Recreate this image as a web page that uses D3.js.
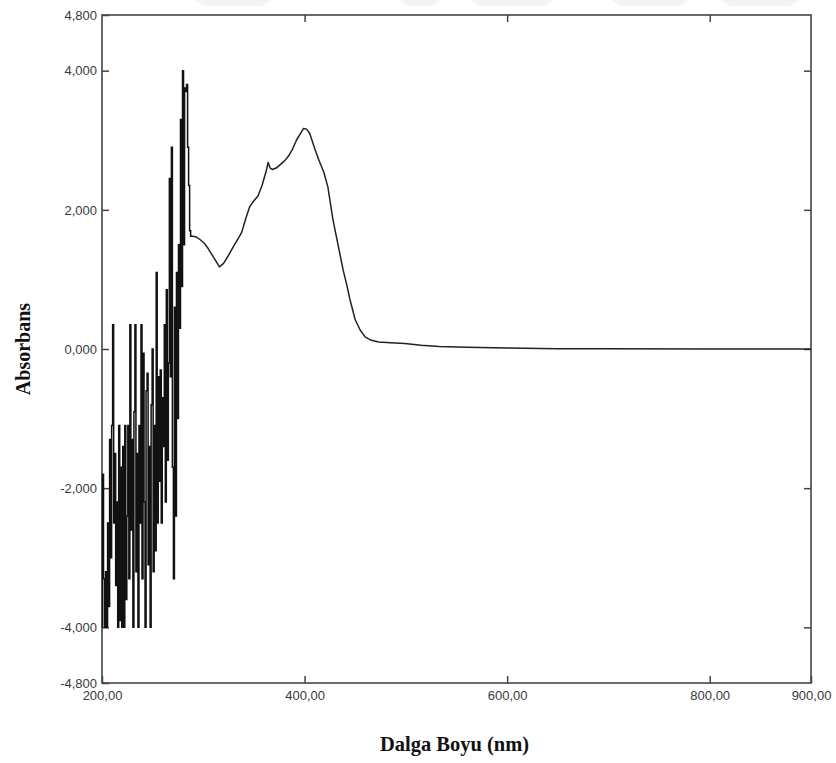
<!DOCTYPE html>
<html>
<head>
<meta charset="utf-8">
<script src="https://cdn.jsdelivr.net/npm/d3@7"></script>
<style>
  body { margin: 0; background: #fff; }
</style>
</head>
<body>
<div id="container"></div>
<script>
// noisy part of the scan (nm, absorbance) - detector saturates below ~285 nm
const noisyScan = [
    [200, -4.0], [201, -1.8], [202, -3.3], [203, -4.0], [204, -3.2], [205, -4.0],
    [206, -2.5], [207, -3.7], [208, -1.3], [209, -3.0], [210, -1.1], [211, 0.35],
    [212, -2.5], [213, -1.5], [214, -3.4], [215, -2.2], [216, -4.0], [217, -1.1],
    [218, -3.9], [219, -1.7], [220, -4.0], [221, -1.4], [222, -4.0], [223, -1.1],
    [224, -3.6], [225, -2.4], [226, -1.1], [227, -3.3], [228, 0.35], [229, -2.6],
    [230, -1.3], [231, -4.0], [232, -0.9], [233, 0.35], [234, -3.2], [235, -1.5],
    [236, -4.0], [237, -1.1], [238, -2.5], [239, 0.35], [240, -3.3], [241, -0.06],
    [242, -2.2], [243, -4.0], [244, -0.6], [245, -0.35], [246, -3.1], [247, -1.4],
    [248, -4.0], [249, -0.8], [250, 0.0], [251, -3.2], [252, -1.1], [253, -2.9],
    [254, 1.1], [255, -2.5], [256, -0.4], [257, -1.9], [258, -0.3], [259, -2.5],
    [260, -0.7], [261, -1.4], [262, 0.35], [263, -2.2], [264, 0.85], [265, -1.6],
    [266, -0.2], [267, 2.45], [268, -0.4], [269, 2.9], [270, -1.7], [271, -3.3],
    [272, 0.6], [273, -2.4], [274, 1.1], [275, -1.0], [276, 1.5], [277, 0.3],
    [278, 3.3], [279, 0.9], [280, 4.0], [281, 1.5], [282, 3.75], [283, 3.7],
    [284, 3.8], [285, 2.9], [286, 2.35], [287, 1.7], [288, 1.62], [290, 1.62]
];

// smooth absorption band (nm, absorbance)
const bandScan = [
    [290, 1.62], [293, 1.61], [297, 1.57], [301, 1.52], [305, 1.44], [310, 1.32],
    [316, 1.18], [320, 1.23], [325, 1.35], [330, 1.48], [335, 1.60], [338, 1.68],
    [342, 1.88], [346, 2.05], [350, 2.13], [354, 2.20], [358, 2.35], [362, 2.55],
    [364, 2.68], [366, 2.60], [368, 2.58], [372, 2.60], [376, 2.65], [380, 2.70],
    [384, 2.77], [388, 2.87], [392, 3.00], [396, 3.10], [399, 3.17], [402, 3.16],
    [405, 3.10], [410, 2.88], [414, 2.72], [419, 2.54], [423, 2.33], [428, 1.86],
    [433, 1.50], [438, 1.14], [442, 0.90], [445, 0.70], [450, 0.42], [455, 0.27],
    [460, 0.17], [465, 0.13], [473, 0.10], [485, 0.09], [499, 0.08], [515, 0.055],
    [533, 0.035], [560, 0.025], [600, 0.015], [650, 0.005], [700, 0.002],
    [800, 0.0], [900, 0.0]
];

const xTicks = [200, 400, 600, 800, 900];
const xTopTicks = [400, 600, 800];
const yTicks = [-4.8, -4.0, -2.0, 0.0, 2.0, 4.0, 4.8];
const yRightTicks = [-4.0, -2.0, 0.0, 2.0, 4.0];

const xTitle = 'Dalga Boyu (nm)';
const yTitle = 'Absorbans';

const W = 836, H = 763;
const margin = { top: 15, right: 25, bottom: 80, left: 102 };
const width = W - margin.left - margin.right;
const height = H - margin.top - margin.bottom;

const locale = d3.formatLocale({
    decimal: ',', thousands: '.', grouping: [3], currency: ['', ''], minus: '-'
});
const fmtY = locale.format('.3f');
const fmtX = locale.format('.2f');

const svg = d3.select('#container')
    .append('svg')
    .attr('width', W)
    .attr('height', H);

// faint watermark remains at the top edge
const wm = [[195, 262], [400, 432], [470, 545], [612, 680], [722, 790]];
svg.append('g')
    .selectAll('path')
    .data(wm)
    .join('path')
    .attr('d', d => `M${d[0]},0 L${d[1] + 8},0 L${d[1]},6 L${d[0] + 8},6 Z`)
    .attr('fill', '#f4f4f4');

const g = svg.append('g')
    .attr('transform', `translate(${margin.left}, ${margin.top})`);

const x = d3.scaleLinear()
    .domain([200, 900])
    .range([0, width]);

const y = d3.scaleLinear()
    .domain([-4.8, 4.8])
    .range([height, 0]);

const styleAxis = (sel) => {
    sel.select('.domain').remove();
    sel.selectAll('.tick line').attr('stroke', '#444').attr('stroke-width', 1.5);
    sel.selectAll('.tick text')
        .attr('fill', '#3a3a3a')
        .attr('font-family', '"Liberation Sans", Arial, sans-serif')
        .attr('font-size', 13);
};

g.append('g')
    .call(d3.axisLeft(y).tickValues(yTicks).tickFormat(fmtY)
        .tickSizeInner(-7).tickSizeOuter(0).tickPadding(5))
    .call(styleAxis);

g.append('g')
    .attr('transform', `translate(0, ${height})`)
    .call(d3.axisBottom(x).tickValues(xTicks).tickFormat(fmtX)
        .tickSizeInner(-7).tickSizeOuter(0).tickPadding(8))
    .call(styleAxis);

g.append('g')
    .attr('transform', `translate(${width}, 0)`)
    .call(d3.axisRight(y).tickValues(yRightTicks).tickFormat('')
        .tickSizeInner(-7).tickSizeOuter(0))
    .call(styleAxis);

g.append('g')
    .call(d3.axisTop(x).tickValues(xTopTicks).tickFormat('')
        .tickSizeInner(-7).tickSizeOuter(0))
    .call(styleAxis);

// frame
g.append('rect')
    .attr('x', 0)
    .attr('y', 0)
    .attr('width', width)
    .attr('height', height)
    .attr('fill', 'none')
    .attr('stroke', '#444')
    .attr('stroke-width', 1.6);

// noisy region drawn as vertical strokes like the instrument plot
const noisyLine = d3.line()
    .curve(d3.curveStep)
    .x(d => x(d[0]))
    .y(d => y(d[1]));

const bandLine = d3.line()
    .x(d => x(d[0]))
    .y(d => y(d[1]));

g.append('path')
    .datum(noisyScan)
    .attr('d', noisyLine)
    .attr('fill', 'none')
    .attr('stroke', '#111')
    .attr('stroke-width', 1.5);

g.append('path')
    .datum(bandScan)
    .attr('d', bandLine)
    .attr('fill', 'none')
    .attr('stroke', '#222')
    .attr('stroke-width', 1.5)
    .attr('stroke-linejoin', 'round');

// axis titles
svg.append('text')
    .attr('x', margin.left + width / 2 - 2)
    .attr('y', 751)
    .attr('text-anchor', 'middle')
    .attr('font-family', '"Liberation Serif", "Times New Roman", serif')
    .attr('font-weight', 'bold')
    .attr('font-size', 20.5)
    .attr('fill', '#111')
    .text(xTitle);

svg.append('text')
    .attr('transform', `translate(30, ${margin.top + y(0)}) rotate(-90)`)
    .attr('text-anchor', 'middle')
    .attr('font-family', '"Liberation Serif", "Times New Roman", serif')
    .attr('font-weight', 'bold')
    .attr('font-size', 20)
    .attr('fill', '#111')
    .text(yTitle);
</script>
</body>
</html>
